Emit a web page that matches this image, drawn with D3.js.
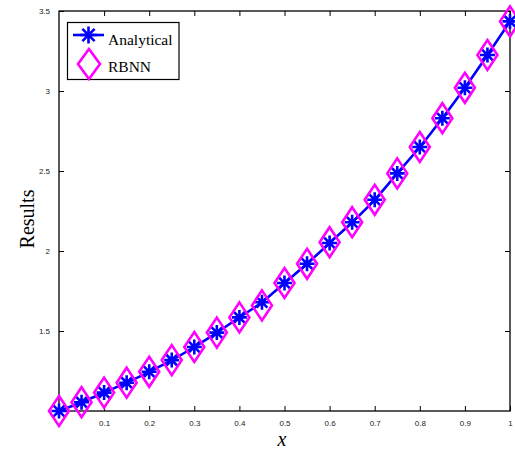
<!DOCTYPE html>
<html><head><meta charset="utf-8">
<script src="https://cdn.jsdelivr.net/npm/d3@7"></script>
<style>body{margin:0;background:#fff}svg{display:block}</style>
</head><body>
<script>
const xValues = [0,0.05,0.1,0.15,0.2,0.25,0.3,0.35,0.4,0.45,0.5,0.55,0.6,0.65,0.7,0.75,0.8,0.85,0.9,0.95,1];
const analytical = [1.00,1.055,1.115,1.177,1.245,1.318,1.40,1.49,1.585,1.68,1.80,1.92,2.05,2.18,2.32,2.485,2.65,2.83,3.02,3.225,3.435];
const rbnn = [1.00,1.055,1.115,1.177,1.245,1.318,1.40,1.49,1.585,1.66,1.80,1.92,2.055,2.18,2.32,2.485,2.65,2.83,3.02,3.225,3.435];
const xTicks = [0.1,0.2,0.3,0.4,0.5,0.6,0.7,0.8,0.9,1];
const yTicks = [1.5,2,2.5,3,3.5];
const seriesNames = ["Analytical","RBNN"];

const W=515,H=455;
const L=59,R=510,T=11,B=411;
const svg=d3.select("body").append("svg").attr("width",W).attr("height",H);
svg.append("rect").attr("width",W).attr("height",H).attr("fill","#fff");
const x=d3.scaleLinear().domain([0,1]).range([L,R]);
const y=d3.scaleLinear().domain([1,3.5]).range([B,T]);

// axes with inward ticks
const tickFont = "Liberation Sans, Arial, sans-serif";
const gx=svg.append("g").attr("transform",`translate(0,${B})`)
  .call(d3.axisBottom(x).tickValues(xTicks).tickSize(-5).tickPadding(9).tickFormat(d=>d3.format("")(d)));
const gxt=svg.append("g").attr("transform",`translate(0,${T})`)
  .call(d3.axisTop(x).tickValues(xTicks).tickSize(-5).tickFormat(""));
const gy=svg.append("g").attr("transform",`translate(${L},0)`)
  .call(d3.axisLeft(y).tickValues(yTicks).tickSize(-5).tickPadding(9).tickFormat(d=>d3.format("")(d)));
const gyr=svg.append("g").attr("transform",`translate(${R},0)`)
  .call(d3.axisRight(y).tickValues(yTicks).tickSize(-5).tickFormat(""));
[gx,gxt,gy,gyr].forEach(g=>{
  g.select(".domain").remove();
  g.selectAll(".tick line").attr("stroke","#000").attr("stroke-width",1);
  g.selectAll("text").attr("font-family",tickFont).attr("font-size",8).attr("fill","#222");
});
svg.append("rect").attr("x",L).attr("y",T).attr("width",R-L).attr("height",B-T)
  .attr("fill","none").attr("stroke","#000").attr("stroke-width",1.3);

// axis labels
svg.append("text").attr("x",282).attr("y",446).attr("text-anchor","middle")
  .attr("font-family","Liberation Serif, Times New Roman, serif").attr("font-style","italic")
  .attr("font-size",20).text("x");
svg.append("text").attr("transform","translate(34,219) rotate(-90)").attr("text-anchor","middle")
  .attr("font-family","Liberation Serif, Times New Roman, serif").attr("font-size",20).text("Results");

const blue="#0000ff", mag="#ff00ff";
function asterisk(g,cx,cy,r){
  const d=r*0.72;
  const p=`M${cx-r},${cy}L${cx+r},${cy}M${cx},${cy-r}L${cx},${cy+r}M${cx-d},${cy-d}L${cx+d},${cy+d}M${cx-d},${cy+d}L${cx+d},${cy-d}`;
  g.append("path").attr("d",p).attr("stroke",blue).attr("stroke-width",2.6).attr("fill","none");
}
function diamond(g,cx,cy,w,h){
  g.append("path").attr("d",`M${cx},${cy-h}L${cx+w},${cy}L${cx},${cy+h}L${cx-w},${cy}Z`)
    .attr("stroke",mag).attr("stroke-width",2.6).attr("fill","none");
}

const pts=xValues.map((v,i)=>[v,analytical[i]]);
const line=d3.line().x(d=>x(d[0])).y(d=>y(d[1])).curve(d3.curveMonotoneX);
svg.append("path").attr("d",line(pts)).attr("fill","none").attr("stroke",blue).attr("stroke-width",2.6);
const ga=svg.append("g");
xValues.forEach((v,i)=>asterisk(ga,x(v),y(analytical[i]),7.5));
const gr=svg.append("g");
xValues.forEach((v,i)=>diamond(gr,x(v),y(rbnn[i]),10,15));

// legend
const lg=svg.append("g");
lg.append("rect").attr("x",67.5).attr("y",22.5).attr("width",111.5).attr("height",57)
  .attr("fill","#fff").attr("stroke","#000").attr("stroke-width",1.2);
lg.append("line").attr("x1",73).attr("x2",104).attr("y1",35).attr("y2",35).attr("stroke",blue).attr("stroke-width",2.6);
asterisk(lg,88.5,35,8.5);
diamond(lg,89,64,11,15);
lg.append("text").attr("x",108).attr("y",44.5).attr("font-family","Liberation Serif, Times New Roman, serif")
  .attr("font-size",15.5).text(seriesNames[0]);
lg.append("text").attr("x",108).attr("y",71.5).attr("font-family","Liberation Serif, Times New Roman, serif")
  .attr("font-size",15.5).text(seriesNames[1]);
</script>
</body></html>
